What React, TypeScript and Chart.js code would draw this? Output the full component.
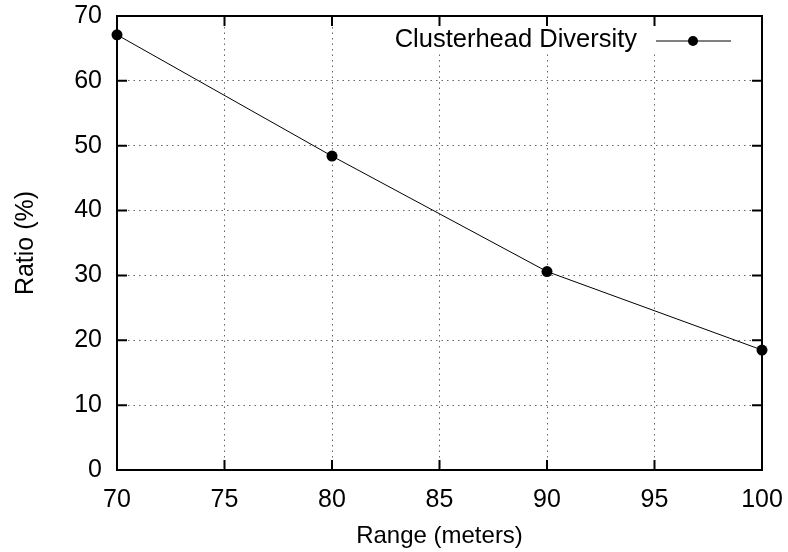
import React, { useEffect, useRef } from "react";
import { Chart, registerables } from "chart.js";

Chart.register(...registerables);

const ranges = [70, 80, 90, 100];
const ratios = [67.1, 48.4, 30.6, 18.5];
const seriesLabel = "Clusterhead Diversity";
const xTitle = "Range (meters)";
const yTitle = "Ratio (%)";
const xTickValues = [70, 75, 80, 85, 90, 95, 100];
const yTickValues = [0, 10, 20, 30, 40, 50, 60, 70];

const FONT = "'Liberation Sans', Arial, Helvetica, sans-serif";

const framePlugin = {
  id: "frame",
  beforeDatasetsDraw(chart: any) {
    const { ctx, chartArea, scales } = chart;
    const { left, right, top, bottom } = chartArea;
    ctx.save();
    // legend mask
    ctx.fillStyle = "#ffffff";
    ctx.fillRect(388, top + 1, right - 388 - 1, 52 - top);
    // border
    ctx.strokeStyle = "#000";
    ctx.lineWidth = 2;
    ctx.setLineDash([]);
    ctx.strokeRect(left, top, right - left, bottom - top);
    // ticks
    const tl = 10;
    ctx.beginPath();
    xTickValues.forEach((v) => {
      const x = scales.x.getPixelForValue(v);
      ctx.moveTo(x, bottom);
      ctx.lineTo(x, bottom - tl);
      ctx.moveTo(x, top);
      ctx.lineTo(x, top + tl);
    });
    yTickValues.forEach((v) => {
      const y = scales.y.getPixelForValue(v);
      ctx.moveTo(left, y);
      ctx.lineTo(left + tl, y);
      ctx.moveTo(right, y);
      ctx.lineTo(right - tl, y);
    });
    ctx.stroke();
    ctx.restore();
  },
  afterDraw(chart: any) {
    const { ctx } = chart;
    ctx.save();
    ctx.font = `25.5px ${FONT}`;
    ctx.fillStyle = "#000";
    ctx.textAlign = "right";
    ctx.textBaseline = "alphabetic";
    ctx.fillText(seriesLabel, 637, 47);
    ctx.strokeStyle = "#000";
    ctx.lineWidth = 1;
    ctx.beginPath();
    ctx.moveTo(656, 41);
    ctx.lineTo(731, 41);
    ctx.stroke();
    ctx.beginPath();
    ctx.arc(693, 41, 5, 0, Math.PI * 2);
    ctx.fill();
    ctx.restore();
  },
};

export default function App() {
  const ref = useRef<HTMLCanvasElement>(null);
  useEffect(() => {
    document.body.style.margin = "0";
    const data = ranges.map((r, i) => ({ x: r, y: ratios[i] }));
    const chart = new Chart(ref.current as HTMLCanvasElement, {
      type: "line",
      data: {
        datasets: [
          {
            label: seriesLabel,
            data,
            borderColor: "#000",
            backgroundColor: "#000",
            borderWidth: 1,
            pointRadius: 5.5,
            pointBackgroundColor: "#000",
            pointBorderWidth: 0,
            tension: 0,
            clip: false as any,
          },
        ],
      },
      options: {
        animation: false,
        responsive: false,
        layout: { padding: { left: 0, right: 26, top: 16, bottom: 0 } },
        plugins: { legend: { display: false }, tooltip: { enabled: false } },
        scales: {
          x: {
            type: "linear",
            min: 70,
            max: 100,
            afterBuildTicks: (axis: any) => {
              axis.ticks = xTickValues.map((v) => ({ value: v }));
            },
            afterFit: (axis: any) => {
              axis.height = 82;
              axis.paddingLeft = 0;
              axis.paddingRight = 0;
            },
            grid: { color: "#666", lineWidth: 1, drawTicks: false },
            border: { display: false, dash: [1.5, 4] },
            ticks: {
              color: "#000",
              padding: 15,
              font: { family: FONT, size: 25 },
              maxRotation: 0,
            },
            title: {
              display: true,
              text: xTitle,
              color: "#000",
              font: { family: FONT, size: 24 },
              padding: { top: 0, bottom: 1 },
            },
          },
          y: {
            type: "linear",
            min: 0,
            max: 70,
            afterBuildTicks: (axis: any) => {
              axis.ticks = yTickValues.map((v) => ({ value: v }));
            },
            afterFit: (axis: any) => {
              axis.width = 117;
              axis.paddingTop = 0;
              axis.paddingBottom = 0;
            },
            grid: { color: "#666", lineWidth: 1, drawTicks: false },
            border: { display: false, dash: [1.5, 4] },
            ticks: {
              color: "#000",
              padding: 15,
              font: { family: FONT, size: 25 },
            },
            title: {
              display: true,
              text: yTitle,
              color: "#000",
              font: { family: FONT, size: 25 },
              padding: { top: 11, bottom: 0 },
            },
          },
        },
      },
      plugins: [framePlugin],
    });
    return () => chart.destroy();
  }, []);
  return <canvas ref={ref} width={788} height={552} style={{ display: "block" }} />;
}
